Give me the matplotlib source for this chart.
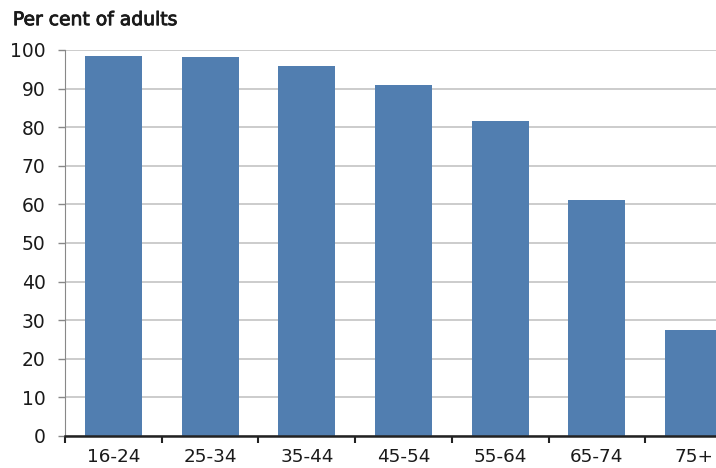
import numpy as np
import matplotlib.pyplot as plt
import matplotlib.patheffects as pe

plt.rcParams['font.family'] = ['DejaVu Sans']

age_groups = ['16-24', '25-34', '35-44', '45-54', '55-64', '65-74', '75+']
pct_adults = [98.5, 98.3, 95.9, 90.8, 81.7, 61.2, 27.4]

fig = plt.figure(figsize=(7.16, 4.68), dpi=100)
ax = fig.add_axes([0.0908, 0.0684, 0.9455, 0.8248])

x = np.arange(len(age_groups))
ax.bar(x, pct_adults, width=0.59, color='#517eb0', zorder=3)

ax.set_xlim(-0.5, len(age_groups) - 0.5)
ax.set_ylim(0, 100)
ax.set_yticks(np.arange(0, 101, 10))
ax.yaxis.grid(True, color='#c4c4c4', lw=1.2, zorder=0)

# labels sit under bars, tick marks sit between categories
ax.set_xticks(x)
ax.set_xticklabels(age_groups)
ax.set_xticks(np.arange(-0.5, len(age_groups)), minor=True)
ax.tick_params(axis='x', which='major', length=0, labelsize=13.2, pad=9,
               labelcolor='#1a1a1a')
ax.tick_params(axis='x', which='minor', length=5, width=1.5, color='#222222')
ax.tick_params(axis='y', length=5, width=1, color='#888888', labelsize=13.5,
               pad=9, labelcolor='#1a1a1a')

for s in ['top', 'right']:
    ax.spines[s].set_visible(False)
ax.spines['left'].set_color('#888888')
ax.spines['bottom'].set_color('#222222')
ax.spines['bottom'].set_linewidth(1.8)
ax.spines['bottom'].set_zorder(4)

fig.text(0.018, 0.958, 'Per cent of adults', fontsize=13.5, va='center',
         ha='left', color='#1a1a1a',
         path_effects=[pe.withStroke(linewidth=0.6, foreground='#1a1a1a')])

fig.savefig('out.png', dpi=100)
